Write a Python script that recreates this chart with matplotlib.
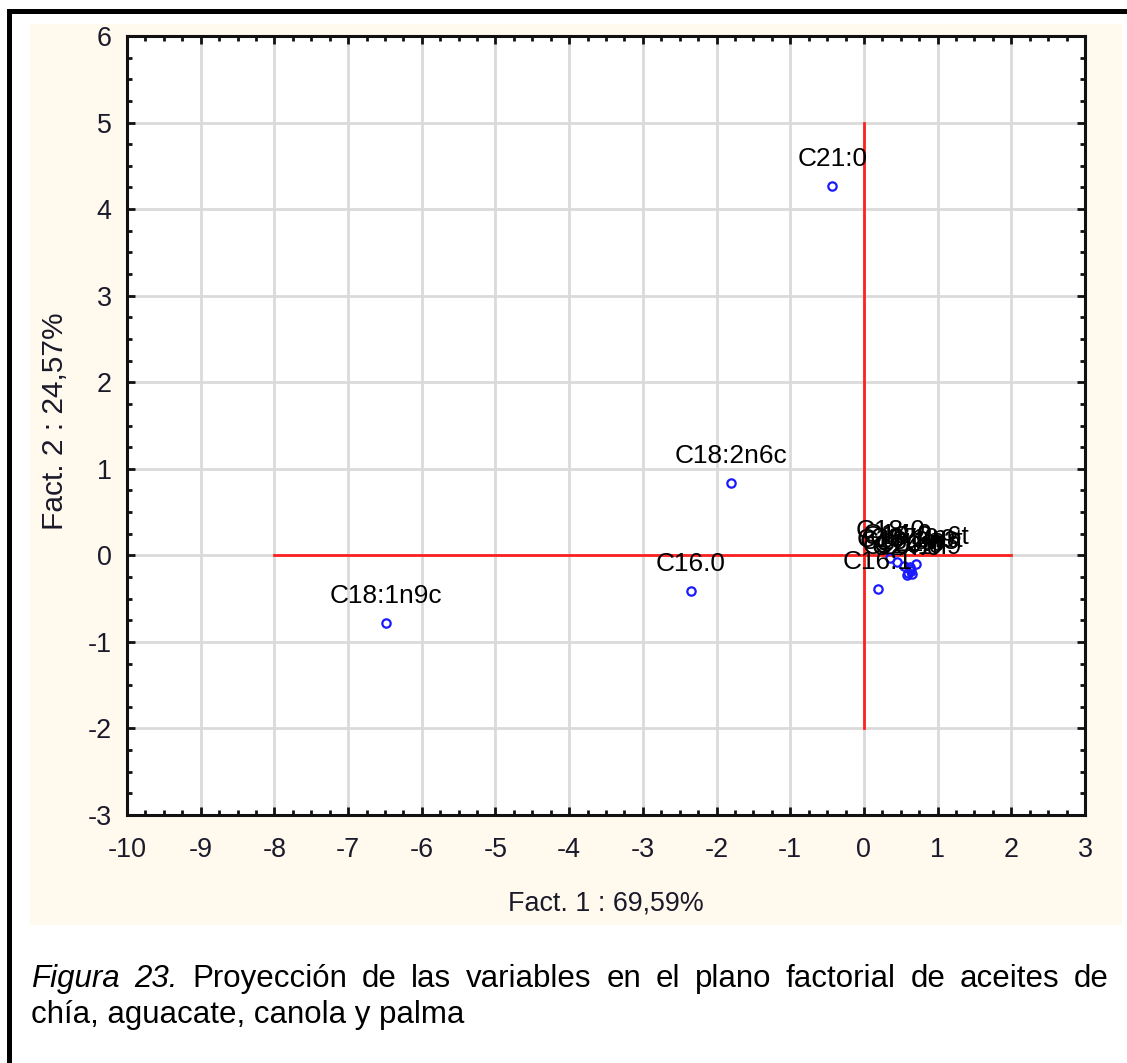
import matplotlib
matplotlib.use("Agg")
import matplotlib.pyplot as plt
from matplotlib import font_manager as fm
from matplotlib.patches import Rectangle
from matplotlib.ticker import MultipleLocator

plt.rcParams["axes.unicode_minus"] = False

# ---------------- data ----------------
labels = ["C18:1n9c", "C16.0", "C18:2n6c", "C21:0", "C16:1", "C18:0", "C14:0",
          "C17:0", "C18:3n3", "C20:0", "C20:1n9", "C18:1n9t", "C18:2n6t",
          "C22:0", "C24:0"]
fact1 = [-6.49, -2.35, -1.80, -0.43, 0.19, 0.36, 0.45, 0.55, 0.62, 0.60, 0.65,
         0.62, 0.70, 0.64, 0.58]
fact2 = [-0.78, -0.41, 0.84, 4.27, -0.39, -0.03, -0.08, -0.12, -0.16, -0.20,
         -0.22, -0.13, -0.10, -0.18, -0.23]
x_ticks = list(range(-10, 4))
y_ticks = list(range(-3, 7))
xlabel = "Fact. 1 : 69,59%"
ylabel = "Fact. 2 : 24,57%"
caption_line1 = ["Figura", "23.", "Proyección", "de", "las", "variables", "en",
                 "el", "plano", "factorial", "de", "aceites", "de"]
caption_italic = 2
caption_line2 = "chía, aguacate, canola y palma"


def has_font(name):
    try:
        fm.findfont(fm.FontProperties(family=name), fallback_to_default=False)
        return True
    except Exception:
        return False


if has_font("Liberation Sans Narrow"):
    NARROW, scale = "Liberation Sans Narrow", 1.0
else:
    NARROW, scale = "Liberation Sans", 0.86
SANS = "Liberation Sans" if has_font("Liberation Sans") else "DejaVu Sans"

W, H = 1127, 1063
fig = plt.figure(figsize=(W / 100, H / 100), dpi=100)
fig.patch.set_facecolor("white")

# beige panel
fig.add_artist(Rectangle((30 / W, 1 - 925 / H), 1092 / W, 901 / H,
                         transform=fig.transFigure, facecolor="#fff9ee",
                         edgecolor="none", zorder=0))
# black border (left and top)
fig.add_artist(Rectangle((7 / W, 0), 5 / W, 1 - 10 / H, transform=fig.transFigure,
                         facecolor="black", edgecolor="none", zorder=1))
fig.add_artist(Rectangle((7 / W, 1 - 14 / H), 1 - 7 / W, 4.5 / H,
                         transform=fig.transFigure, facecolor="black",
                         edgecolor="none", zorder=1))

ax = fig.add_axes([127 / W, 1 - 815 / H, 958 / W, 779 / H])
ax.set_facecolor("white")
ax.set_xlim(-10, 3)
ax.set_ylim(-3, 6)
ax.set_xticks(x_ticks)
ax.set_yticks(y_ticks)
ax.xaxis.set_minor_locator(MultipleLocator(0.25))
ax.yaxis.set_minor_locator(MultipleLocator(0.25))
ax.grid(True, which="major", color="#dadada", linewidth=2, zorder=0)
ax.set_axisbelow(True)
for s in ax.spines.values():
    s.set_linewidth(2.2)
    s.set_color("#111111")
ax.tick_params(which="both", direction="in", top=True, right=True,
               color="#111111")
ax.tick_params(which="major", length=6, width=2)
ax.tick_params(which="minor", length=3.5, width=2)
ax.tick_params(axis="x", which="major", pad=16)
ax.tick_params(axis="y", which="major", pad=11)
for t in ax.get_xticklabels() + ax.get_yticklabels():
    t.set_fontfamily(NARROW)
    t.set_fontsize(22.5 * scale)
    t.set_color("#1a1a2a")

# red reference lines
ax.plot([-8, 2], [0, 0], color="#ff2020", linewidth=2, zorder=2)
ax.plot([0, 0], [-2, 5], color="#ff2020", linewidth=2, zorder=2)

# points
ax.plot(fact1, fact2, linestyle="none", marker="o", markersize=6,
        markerfacecolor="none", markeredgecolor="#1a1aff",
        markeredgewidth=1.6, zorder=3)
for lab, x, y in zip(labels, fact1, fact2):
    ax.annotate(lab, (x, y), xytext=(0, 19.5), textcoords="offset points",
                ha="center", va="center", fontsize=22 * scale,
                fontfamily=NARROW, color="black", zorder=4)

fig.text(606 / W, 1 - 904 / H, xlabel, ha="center", va="center",
         fontsize=22.5 * scale, fontfamily=NARROW, color="#1a1a2a")
fig.text(55 / W, 1 - 421 / H, ylabel, ha="center", va="center", rotation=90,
         fontsize=21.5, fontfamily=SANS, color="#1a1a2a")

# caption, first line justified
renderer = fig.canvas.get_renderer()
left, right = 31, 1109
texts = []
for i, w in enumerate(caption_line1):
    t = fig.text(0, 1 - 987 / H, w, fontsize=22.5, fontfamily=SANS,
                 style="italic" if i < caption_italic else "normal",
                 ha="left", va="baseline", color="black")
    texts.append(t)
widths = [t.get_window_extent(renderer).width for t in texts]
gap = (right - left - sum(widths)) / (len(texts) - 1)
xpos = left
for t, w in zip(texts, widths):
    t.set_x(xpos / W)
    xpos += w + gap
fig.text(left / W, 1 - 1023 / H, caption_line2, fontsize=22.5, fontfamily=SANS,
         ha="left", va="baseline", color="black")

fig.savefig("out.png", dpi=100)
